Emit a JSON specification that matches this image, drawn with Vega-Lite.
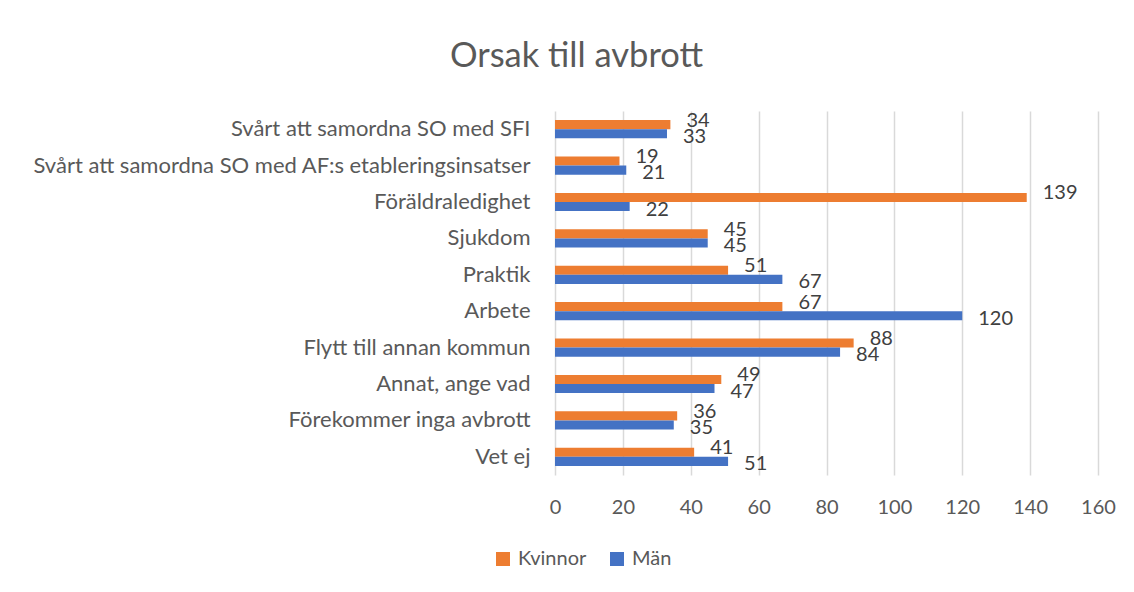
{
  "$schema": "https://vega.github.io/schema/vega-lite/v6.json",
  "autosize": {"type": "none"},
  "width": 543,
  "height": 364,
  "padding": {"left": 555, "top": 111, "right": 36, "bottom": 117},
  "background": "white",
  "config": {
    "font": "Lato",
    "view": {"stroke": null}
  },
  "title": {
    "text": "Orsak till avbrott",
    "fontSize": 34.5,
    "fontWeight": "normal",
    "color": "#595959",
    "anchor": "middle",
    "frame": "group",
    "dx": -250,
    "offset": 36
  },
  "data": {
    "values": [
      {"orsak": "Svårt att samordna SO med SFI", "kon": "Kvinnor", "antal": 34},
      {"orsak": "Svårt att samordna SO med SFI", "kon": "Män", "antal": 33},
      {"orsak": "Svårt att samordna SO med AF:s etableringsinsatser", "kon": "Kvinnor", "antal": 19},
      {"orsak": "Svårt att samordna SO med AF:s etableringsinsatser", "kon": "Män", "antal": 21},
      {"orsak": "Föräldraledighet", "kon": "Kvinnor", "antal": 139},
      {"orsak": "Föräldraledighet", "kon": "Män", "antal": 22},
      {"orsak": "Sjukdom", "kon": "Kvinnor", "antal": 45},
      {"orsak": "Sjukdom", "kon": "Män", "antal": 45},
      {"orsak": "Praktik", "kon": "Kvinnor", "antal": 51},
      {"orsak": "Praktik", "kon": "Män", "antal": 67},
      {"orsak": "Arbete", "kon": "Kvinnor", "antal": 67},
      {"orsak": "Arbete", "kon": "Män", "antal": 120},
      {"orsak": "Flytt till annan kommun", "kon": "Kvinnor", "antal": 88},
      {"orsak": "Flytt till annan kommun", "kon": "Män", "antal": 84},
      {"orsak": "Annat, ange vad", "kon": "Kvinnor", "antal": 49},
      {"orsak": "Annat, ange vad", "kon": "Män", "antal": 47},
      {"orsak": "Förekommer inga avbrott", "kon": "Kvinnor", "antal": 36},
      {"orsak": "Förekommer inga avbrott", "kon": "Män", "antal": 35},
      {"orsak": "Vet ej", "kon": "Kvinnor", "antal": 41},
      {"orsak": "Vet ej", "kon": "Män", "antal": 51}
    ]
  },
  "encoding": {
    "y": {
      "field": "orsak",
      "type": "nominal",
      "sort": null,
      "scale": {"paddingInner": 0.5, "paddingOuter": 0.25},
      "axis": {
        "title": null,
        "ticks": false,
        "domain": false,
        "labelFontSize": 22,
        "labelColor": "#595959",
        "labelPadding": 25,
        "labelLimit": 0
      }
    },
    "yOffset": {
      "field": "kon",
      "type": "nominal",
      "sort": ["Kvinnor", "Män"],
      "scale": {"paddingInner": 0, "paddingOuter": 0}
    },
    "x": {
      "field": "antal",
      "type": "quantitative",
      "scale": {"domain": [0, 160], "nice": false},
      "axis": {
        "title": null,
        "values": [0, 20, 40, 60, 80, 100, 120, 140, 160],
        "ticks": false,
        "domain": false,
        "grid": true,
        "gridColor": "#d9d9d9",
        "gridWidth": 1.5,
        "labelFlush": false,
        "labelFontSize": 20,
        "labelColor": "#595959",
        "labelPadding": 22
      }
    }
  },
  "layer": [
    {
      "mark": {"type": "bar"},
      "encoding": {
        "color": {
          "field": "kon",
          "type": "nominal",
          "sort": ["Kvinnor", "Män"],
          "scale": {"domain": ["Kvinnor", "Män"], "range": ["#ED7D31", "#4472C4"]},
          "legend": {
            "title": null,
            "orient": "none",
            "legendX": -62,
            "legendY": 438,
            "direction": "horizontal",
            "symbolType": "square",
            "symbolSize": 196,
            "symbolStrokeWidth": 0,
            "labelFontSize": 20,
            "labelColor": "#595959",
            "labelOffset": 5,
            "columnPadding": 20
          }
        }
      }
    },
    {
      "transform": [{"filter": "datum.kon === 'Kvinnor'"}],
      "mark": {"type": "text", "align": "left", "baseline": "middle", "dx": 16, "dy": -4, "fontSize": 20, "color": "#404040"},
      "encoding": {
        "text": {"field": "antal", "type": "quantitative"}
      }
    },
    {
      "transform": [{"filter": "datum.kon === 'Män'"}],
      "mark": {"type": "text", "align": "left", "baseline": "middle", "dx": 16, "dy": 3, "fontSize": 20, "color": "#404040"},
      "encoding": {
        "text": {"field": "antal", "type": "quantitative"}
      }
    }
  ]
}
